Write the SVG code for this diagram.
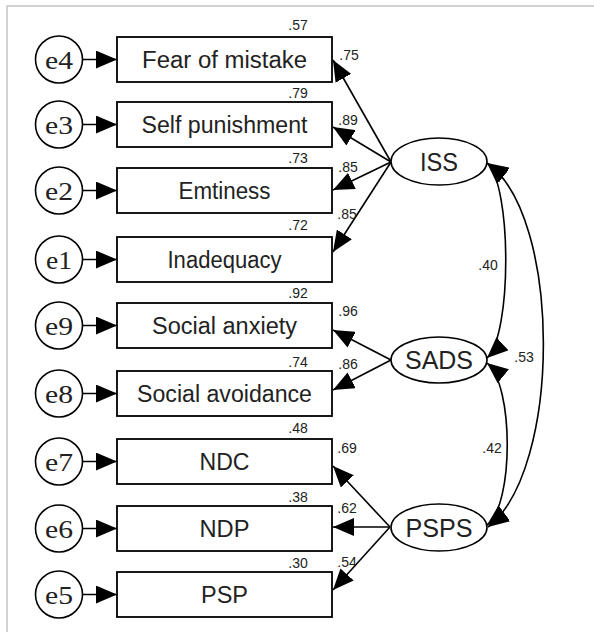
<svg xmlns="http://www.w3.org/2000/svg" width="594" height="632" viewBox="0 0 594 632">
<style>
.box{fill:#fff;stroke:#000;stroke-width:1.8}
.err{fill:#fff;stroke:#000;stroke-width:1.6}
.lat{fill:#fff;stroke:#000;stroke-width:1.6}
.bt{font-family:"Liberation Sans",Arial,sans-serif;font-size:23px;fill:#222;text-anchor:middle}
.et{font-family:"Liberation Serif","Times New Roman",serif;font-size:26px;fill:#222;text-anchor:middle}
.lt{font-family:"Liberation Sans",Arial,sans-serif;font-size:26px;fill:#222;text-anchor:middle}
.num{font-family:"Liberation Sans",Arial,sans-serif;font-size:14px;fill:#222;text-anchor:middle}
.ln{fill:none;stroke:#000;stroke-width:1.6}
</style>
<defs>
<marker id="ah" markerUnits="userSpaceOnUse" markerWidth="21" markerHeight="18" refX="20" refY="8.5" orient="auto-start-reverse" viewBox="0 0 20 17">
<path d="M0,0 L20,8.5 L0,17 Z" fill="#000"/>
</marker>
</defs>
<rect width="594" height="632" fill="#fff"/>
<path d="M7,632 V6 H594" fill="none" stroke="#c4c4c4" stroke-width="1.5"/>

<g id="connectors">
<path class="ln" d="M82,59.5 H117" marker-end="url(#ah)"/>
<path class="ln" d="M82,124.5 H117" marker-end="url(#ah)"/>
<path class="ln" d="M82,190.5 H117" marker-end="url(#ah)"/>
<path class="ln" d="M82,259.5 H117" marker-end="url(#ah)"/>
<path class="ln" d="M82,325.5 H117" marker-end="url(#ah)"/>
<path class="ln" d="M82,393.5 H117" marker-end="url(#ah)"/>
<path class="ln" d="M82,461.5 H117" marker-end="url(#ah)"/>
<path class="ln" d="M82,528.5 H117" marker-end="url(#ah)"/>
<path class="ln" d="M82,594.5 H117" marker-end="url(#ah)"/>

<path class="ln" d="M391,162 L333,60" marker-end="url(#ah)"/>
<path class="ln" d="M391,162 L333,127" marker-end="url(#ah)"/>
<path class="ln" d="M391,162 L333,190" marker-end="url(#ah)"/>
<path class="ln" d="M391,162 L333,252" marker-end="url(#ah)"/>

<path class="ln" d="M391,360 L333,330" marker-end="url(#ah)"/>
<path class="ln" d="M391,360 L333,390" marker-end="url(#ah)"/>

<path class="ln" d="M390,527 L333,466" marker-end="url(#ah)"/>
<path class="ln" d="M390,527 L333,527" marker-end="url(#ah)"/>
<path class="ln" d="M390,527 L333,590" marker-end="url(#ah)"/>

<path class="ln" d="M487,163 C512,185 512,335 487,358" marker-start="url(#ah)" marker-end="url(#ah)"/>
<path class="ln" d="M487,163 C562,215 562,470 488,527" marker-start="url(#ah)" marker-end="url(#ah)"/>
<path class="ln" d="M487,363 C514,385 514,505 487,525" marker-start="url(#ah)" marker-end="url(#ah)"/>

<text class="num" x="298" y="30">.57</text>
<text class="num" x="349" y="60">.75</text>
<text class="num" x="298" y="98">.79</text>
<text class="num" x="348" y="125">.89</text>
<text class="num" x="298" y="163">.73</text>
<text class="num" x="348" y="172">.85</text>
<text class="num" x="347" y="219">.85</text>
<text class="num" x="298" y="230">.72</text>
<text class="num" x="298" y="298">.92</text>
<text class="num" x="348" y="316">.96</text>
<text class="num" x="298" y="367">.74</text>
<text class="num" x="348" y="369">.86</text>
<text class="num" x="298" y="433">.48</text>
<text class="num" x="347" y="453">.69</text>
<text class="num" x="298" y="502">.38</text>
<text class="num" x="347" y="513">.62</text>
<text class="num" x="298" y="568">.30</text>
<text class="num" x="347" y="567">.54</text>
<text class="num" x="488" y="270">.40</text>
<text class="num" x="524" y="362">.53</text>
<text class="num" x="492" y="453">.42</text>
</g>

<g id="e4"><circle class="err" cx="59" cy="59.5" r="23.5"/><text class="et" x="59" y="68.5" textLength="28" lengthAdjust="spacingAndGlyphs">e4</text></g>
<g id="e3"><circle class="err" cx="59" cy="124.5" r="23.5"/><text class="et" x="59" y="133.5" textLength="28" lengthAdjust="spacingAndGlyphs">e3</text></g>
<g id="e2"><circle class="err" cx="59" cy="190.5" r="23.5"/><text class="et" x="59" y="199.5" textLength="28" lengthAdjust="spacingAndGlyphs">e2</text></g>
<g id="e1"><circle class="err" cx="59" cy="259.5" r="23.5"/><text class="et" x="59" y="268.5" textLength="26" lengthAdjust="spacingAndGlyphs">e1</text></g>
<g id="e9"><circle class="err" cx="59" cy="325.5" r="23.5"/><text class="et" x="59" y="334.5" textLength="28" lengthAdjust="spacingAndGlyphs">e9</text></g>
<g id="e8"><circle class="err" cx="59" cy="393.5" r="23.5"/><text class="et" x="59" y="402.5" textLength="28" lengthAdjust="spacingAndGlyphs">e8</text></g>
<g id="e7"><circle class="err" cx="59" cy="461.5" r="23.5"/><text class="et" x="59" y="470.5" textLength="28" lengthAdjust="spacingAndGlyphs">e7</text></g>
<g id="e6"><circle class="err" cx="59" cy="528.5" r="23.5"/><text class="et" x="59" y="537.5" textLength="28" lengthAdjust="spacingAndGlyphs">e6</text></g>
<g id="e5"><circle class="err" cx="59" cy="594.5" r="23.5"/><text class="et" x="59" y="603.5" textLength="28" lengthAdjust="spacingAndGlyphs">e5</text></g>

<g id="fear"><rect class="box" x="117" y="37" width="215" height="45"/><text class="bt" x="224.5" y="68" textLength="165" lengthAdjust="spacingAndGlyphs">Fear of mistake</text></g>
<g id="selfpun"><rect class="box" x="117" y="102" width="215" height="45"/><text class="bt" x="224.5" y="133" textLength="166" lengthAdjust="spacingAndGlyphs">Self punishment</text></g>
<g id="emtiness"><rect class="box" x="117" y="168" width="215" height="45"/><text class="bt" x="224.5" y="199" textLength="92" lengthAdjust="spacingAndGlyphs">Emtiness</text></g>
<g id="inadequacy"><rect class="box" x="117" y="237" width="215" height="45"/><text class="bt" x="224.5" y="268" textLength="114" lengthAdjust="spacingAndGlyphs">Inadequacy</text></g>
<g id="socanx"><rect class="box" x="117" y="303" width="215" height="45"/><text class="bt" x="224.5" y="334" textLength="145" lengthAdjust="spacingAndGlyphs">Social anxiety</text></g>
<g id="socavo"><rect class="box" x="117" y="371" width="215" height="45"/><text class="bt" x="224.5" y="402" textLength="175" lengthAdjust="spacingAndGlyphs">Social avoidance</text></g>
<g id="ndc"><rect class="box" x="117" y="439" width="215" height="45"/><text class="bt" x="224.5" y="470" textLength="50" lengthAdjust="spacingAndGlyphs">NDC</text></g>
<g id="ndp"><rect class="box" x="117" y="506" width="215" height="45"/><text class="bt" x="224.5" y="537" textLength="50" lengthAdjust="spacingAndGlyphs">NDP</text></g>
<g id="psp"><rect class="box" x="117" y="572" width="215" height="45"/><text class="bt" x="224.5" y="603" textLength="47" lengthAdjust="spacingAndGlyphs">PSP</text></g>

<g id="ISS"><ellipse class="lat" cx="439" cy="161.5" rx="48" ry="23.5"/><text class="lt" x="439" y="171" textLength="38" lengthAdjust="spacingAndGlyphs">ISS</text></g>
<g id="SADS"><ellipse class="lat" cx="439" cy="360" rx="48" ry="23"/><text class="lt" x="439" y="369" textLength="68" lengthAdjust="spacingAndGlyphs">SADS</text></g>
<g id="PSPS"><ellipse class="lat" cx="439" cy="527.5" rx="48" ry="23.5"/><text class="lt" x="439" y="537" textLength="67" lengthAdjust="spacingAndGlyphs">PSPS</text></g>
</svg>
